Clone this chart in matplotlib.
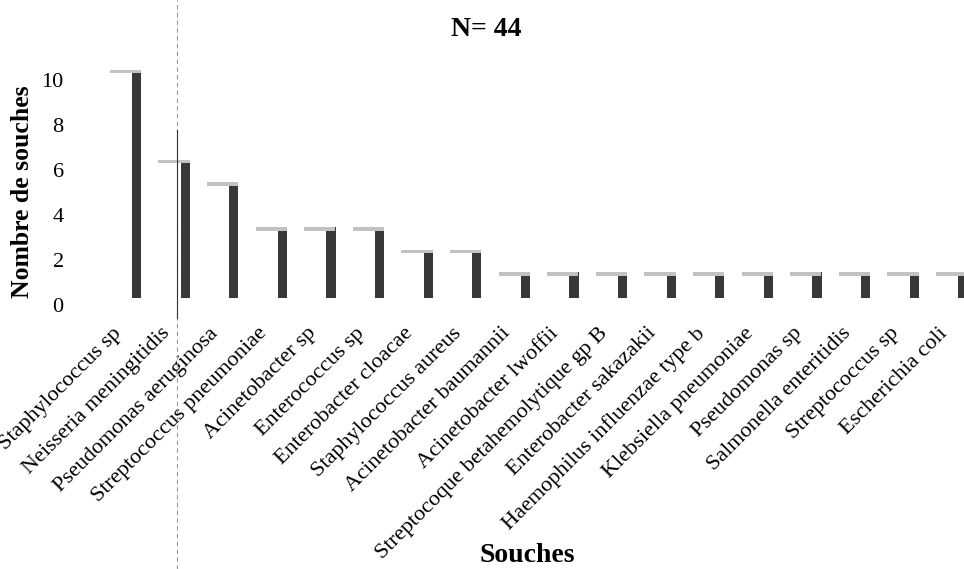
import matplotlib
matplotlib.use("Agg")
import matplotlib.pyplot as plt
import matplotlib.transforms as mtransforms
import numpy as np

# Souches isolées (N = 44)
souches = ["Staphylococcus sp", "Neisseria meningitidis", "Pseudomonas aeruginosa",
           "Streptococcus pneumoniae", "Acinetobacter sp", "Enterococcus sp",
           "Enterobacter cloacae", "Staphylococcus aureus", "Acinetobacter baumannii",
           "Acinetobacter lwoffii", "Streptocoque betahemolytique gp B",
           "Enterobacter sakazakii", "Haemophilus influenzae type b",
           "Klebsiella pneumoniae", "Pseudomonas sp", "Salmonella enteritidis",
           "Streptococcus sp", "Escherichia coli"]
nombre = [10, 6, 5, 3, 3, 3, 2, 2, 1, 1, 1, 1, 1, 1, 1, 1, 1, 1]
yticks = [0, 2, 4, 6, 8, 10]

plt.rcParams['font.family'] = ['Liberation Serif', 'DejaVu Serif']

fig = plt.figure(figsize=(9.64, 5.69), dpi=100)
ax = fig.add_axes([72 / 964, 1 - 305 / 569, 1 - 72 / 964, 247.5 / 569])

x = np.arange(len(souches))
vals = np.array(nombre)

# pseudo 3D : face avant blanche, cote sombre, dessus gris clair
ax.bar(x + 0.32, vals + 0.15, bottom=0.3, width=0.19, color='#383838', linewidth=0)
ax.bar(x + 0.09, 0.16, bottom=vals + 0.29, width=0.64, color='#c2c2c2', linewidth=0)

ax.set_xlim((72 - 121) / 48.6, (964 - 121) / 48.6)
ax.set_ylim(0, 11)
ax.set_yticks(yticks)
ax.set_yticklabels([str(t) for t in yticks], fontsize=16)
ax.set_xticks(x)
ax.set_xticklabels(souches, rotation=45, ha='right', va='top',
                   rotation_mode='anchor', fontsize=16)
ax.tick_params(axis='both', length=0)
ax.tick_params(axis='y', pad=6)
ax.tick_params(axis='x', pad=10)
shift = mtransforms.ScaledTranslation(-9 / 100, -5 / 100, fig.dpi_scale_trans)
for lab in ax.get_xticklabels():
    lab.set_transform(lab.get_transform() + shift)
for s in ax.spines.values():
    s.set_visible(False)

fig.text(486 / 964, 1 - 30 / 569, "N= 44", ha='center', va='center',
         fontsize=20, fontweight='bold')
fig.text(23 / 964, 1 - 192 / 569, "Nombre de souches", rotation=90,
         ha='center', va='center', fontsize=18.5, fontweight='bold')
fig.text(527 / 964, 1 - 556 / 569, "Souches", ha='center', va='center',
         fontsize=20, fontweight='bold')

# trait vertical du scan
fig.add_artist(plt.Line2D([177 / 964, 177 / 964], [0, 1], color='#999999',
                          lw=0.8, ls=(0, (4, 3))))
fig.add_artist(plt.Line2D([177 / 964, 177 / 964], [1 - 318 / 569, 1 - 130 / 569],
                          color='#333333', lw=0.8))

fig.savefig("out.png", dpi=100)
